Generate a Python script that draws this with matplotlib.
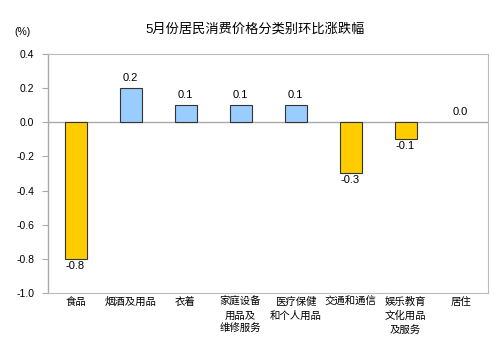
import matplotlib
matplotlib.use("Agg")
import matplotlib.pyplot as plt

plt.rcParams['font.family'] = ['Liberation Sans', 'Noto Sans CJK SC', 'DejaVu Sans']

# ── data ──────────────────────────────────────────────────────────────────────
categories = ["食品", "烟酒及用品", "衣着", "家庭设备\n用品及\n维修服务",
              "医疗保健\n和个人用品", "交通和通信", "娱乐教育\n文化用品\n及服务", "居住"]
values = [-0.8, 0.2, 0.1, 0.1, 0.1, -0.3, -0.1, 0.0]
yticks = [0.4, 0.2, 0.0, -0.2, -0.4, -0.6, -0.8, -1.0]

POS_COLOR = "#99CCFF"
NEG_COLOR = "#FFCC00"

fig = plt.figure(figsize=(5, 3.58), dpi=100)
ax = fig.add_axes([0.096, 0.182, 0.88, 0.667])

x = list(range(len(values)))
colors = [NEG_COLOR if v < 0 else POS_COLOR for v in values]
edges = ["none" if v == 0 else "#333333" for v in values]
ax.bar(x, values, width=0.4, color=colors, edgecolor=edges,
       linewidth=0.8, zorder=3)

for xi, v in zip(x, values):
    if v < 0:
        ax.text(xi, v - 0.012, f"{v:.1f}", ha="center", va="top", fontsize=8)
    else:
        ax.text(xi, v + 0.03, f"{v:.1f}", ha="center", va="bottom", fontsize=8)

ax.axhline(0, color="#aaaaaa", linewidth=1.0, zorder=2)

ax.set_xlim(-0.5, len(values) - 0.5)
ax.set_ylim(-1.0, 0.4)
ax.set_yticks(yticks)
ax.set_yticklabels([f"{t:.1f}" for t in yticks], fontsize=7.5)
ax.set_xticks(x)
ax.set_xticklabels(categories, fontsize=7.5, linespacing=1.45, va="top")
ax.tick_params(axis="x", length=0, pad=3)
ax.tick_params(axis="y", length=4, color="#aaaaaa", pad=6, direction="out")

for s in ["top", "right", "bottom"]:
    ax.spines[s].set_color("#bbbbbb")
    ax.spines[s].set_linestyle((0, (1, 1)))
    ax.spines[s].set_linewidth(0.8)
ax.spines["left"].set_color("#aaaaaa")
ax.spines["left"].set_linewidth(1.0)

fig.text(0.51, 0.918, "5月份居民消费价格分类别环比涨跌幅", ha="center",
         va="center", fontsize=9.5)
fig.text(0.045, 0.912, "(%)", ha="center", va="center", fontsize=7.5)

fig.savefig("out.png", dpi=100)
